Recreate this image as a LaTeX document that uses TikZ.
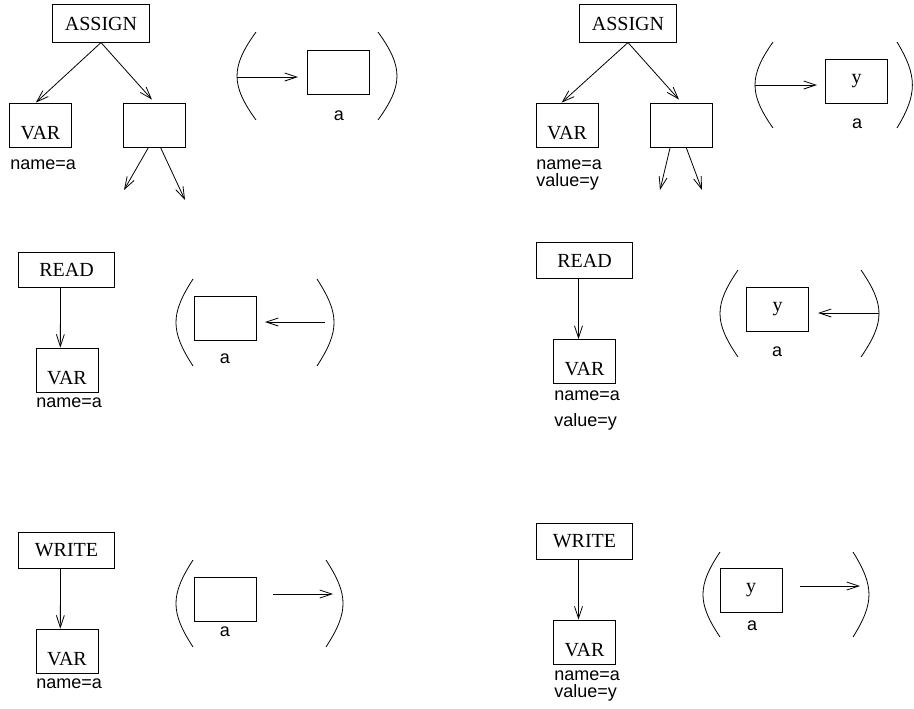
\documentclass[tikz,border=0pt]{standalone}
\usepackage{fontspec}
\setmainfont{Liberation Serif}
\newfontfamily\lsans{Liberation Sans}
\usetikzlibrary{arrows.meta}
\begin{document}
\begin{tikzpicture}[x=0.75pt,y=-0.75pt,
  line width=0.6pt,
  arr/.style={-{Straight Barb[length=9pt,width=6pt,line width=0.6pt]}},
  op/.style={draw,rectangle,inner sep=0pt,minimum width=72.5pt,minimum height=26.5pt,font=\fontsize{15pt}{18pt}\selectfont},
  varbox/.style={draw,rectangle,inner sep=0pt,minimum width=46.5pt,minimum height=33pt,text height=21pt,text depth=0pt,font=\fontsize{15pt}{18pt}\selectfont},
  cell/.style={draw,rectangle,inner sep=0pt,minimum width=46.5pt,minimum height=33pt,font=\fontsize{15pt}{18pt}\selectfont},
  lab/.style={inner sep=0pt,font=\lsans\fontsize{13.5pt}{16pt}\selectfont},
  attr/.style={lab,anchor=west,text height=7.5pt,text depth=2pt}]
\useasboundingbox (0,0) rectangle (914,708);

% ===== top left: ASSIGN =====
\node[op,minimum height=28pt] (assign1) at (101,23.5) {ASSIGN};
\node[varbox] (var1) at (40.5,125) {VAR};
\node[cell] (e1) at (154.5,125) {};
\node[attr] (n1) at (10,166) {name=a};
\coordinate (o1a) at (124,190);
\coordinate (o1b) at (185,200);
\draw[arr] (assign1.south) -- ([xshift=-3.5]var1.north);
\draw[arr] (assign1.south) -- ([shift={(-2.5,-3)}]e1.north);
\draw[arr] ([xshift=-4.5]e1.south) -- (o1a);
\draw[arr] ([xshift=4.5]e1.south) -- (o1b);
\node[cell] (b1) at (338,72) {};
\node[lab] (a1) at (339,116) {a};
\draw (256,32) .. controls (230.7,67) and (230.7,85) .. (256,120);
\draw (378,32) .. controls (403.3,67) and (403.3,85) .. (378,120);
\coordinate (p1) at (237,77);
\coordinate (q1) at (298,77);
\draw[arr] (p1) -- (q1);

% ===== top right: ASSIGN =====
\node[op,minimum height=28pt] (assign2) at (628,23.5) {ASSIGN};
\node[varbox] (var2) at (567,125) {VAR};
\node[cell] (e2) at (681.5,125) {};
\node[attr] (n2) at (536,166) {name=a};
\node[attr] (v2) at (536,182.5) {value=y};
\coordinate (o2a) at (660,190);
\coordinate (o2b) at (702,190);
\draw[arr] (assign2.south) -- ([xshift=-4]var2.north);
\draw[arr] (assign2.south) -- ([shift={(-2.5,-3)}]e2.north);
\draw[arr] ([xshift=-8.5]e2.south) -- (o2a);
\draw[arr] ([xshift=3.5]e2.south) -- (o2b);
\node[cell] (b2) at (856.5,81) {y};
\node[lab] (a2) at (857,124) {a};
\draw (773,42) .. controls (749,76) and (749,94) .. (773,128);
\draw (897,42) .. controls (917.5,76) and (917.5,94) .. (897,128);
\coordinate (p2) at (755,85);
\coordinate (q2) at (817,85);
\draw[arr] (p2) -- (q2);

% ===== middle left: READ =====
\node[op] (read1) at (66.5,270) {READ};
\node[varbox] (var3) at (67,370) {VAR};
\node[attr] (n3) at (36,404) {name=a};
\draw[arr] ([xshift=-4.5]read1.south) -- ([xshift=-5]var3.north);
\node[cell] (b3) at (225,318) {};
\node[lab] (a3) at (225,359) {a};
\draw (193,279) .. controls (170.3,314) and (170.3,331) .. (193,366);
\draw (317,279) .. controls (339.7,314) and (339.7,331) .. (317,366);
\coordinate (p3) at (325,322);
\coordinate (q3) at (265,322);
\draw[arr] (p3) -- (q3);

% ===== middle right: READ =====
\node[op] (read2) at (584.5,260.5) {READ};
\node[varbox] (var4) at (584.5,361.5) {VAR};
\node[attr] (n4) at (554,397) {name=a};
\node[attr] (v4) at (554,423) {value=y};
\draw[arr] ([xshift=-4.5]read2.south) -- ([xshift=-4.5]var4.north);
\node[cell] (b4) at (777.5,309) {y};
\node[lab] (a4) at (777,352) {a};
\draw (738,270) .. controls (714,305) and (714,322) .. (738,357);
\draw (861,270) .. controls (885,305) and (885,322) .. (861,357);
\coordinate (p4) at (879,313);
\coordinate (q4) at (818,313);
\draw[arr] (p4) -- (q4);

% ===== bottom left: WRITE =====
\node[op] (write1) at (66.5,550.5) {WRITE};
\node[varbox] (var5) at (67,651) {VAR};
\node[attr] (n5) at (36,685) {name=a};
\draw[arr] ([xshift=-4.5]write1.south) -- ([xshift=-5]var5.north);
\node[cell] (b5) at (225,599) {};
\node[lab] (a5) at (225,632) {a};
\draw (193,560) .. controls (170.3,595) and (170.3,612) .. (193,647);
\draw (326,560) .. controls (348.7,595) and (348.7,612) .. (326,647);
\coordinate (p5) at (273,594);
\coordinate (q5) at (333,594);
\draw[arr] (p5) -- (q5);

% ===== bottom right: WRITE =====
\node[op] (write2) at (584.5,541.5) {WRITE};
\node[varbox] (var6) at (584.5,642) {VAR};
\node[attr] (n6) at (554,677) {name=a};
\node[attr] (v6) at (554,693.5) {value=y};
\draw[arr] ([xshift=-4.5]write2.south) -- ([xshift=-4.5]var6.north);
\node[cell] (b6) at (751,590) {y};
\node[lab] (a6) at (752,626) {a};
\draw (720,552) .. controls (697.3,586) and (697.3,603) .. (720,637);
\draw (853,552) .. controls (874.3,586) and (874.3,603) .. (853,637);
\coordinate (p6) at (800,586);
\coordinate (q6) at (860,586);
\draw[arr] (p6) -- (q6);
\end{tikzpicture}
\end{document}
